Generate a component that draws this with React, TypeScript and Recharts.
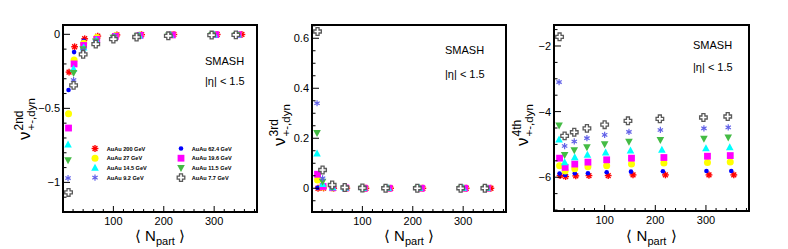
import { ScatterChart, Scatter, XAxis, YAxis } from "recharts";

// <Npart> per energy (points shift slightly with beam energy)
const npart200 = [12, 23, 43, 69, 107, 156, 220, 306, 355];
const npart62 = [11, 22, 41, 67, 104, 152, 215, 301, 350];
const npart27 = [11, 22, 41, 67, 104, 153, 217, 303, 348];
const npart19 = [11, 22, 41, 67, 104, 153, 217, 303, 348];
const npart14 = [10, 21, 41, 66, 102, 151, 213, 300, 347];
const npart11 = [10, 21, 40, 65, 100, 148, 210, 296, 344];
const npart9 = [10, 21, 40, 65, 100, 148, 210, 296, 344];
const npart7 = [11, 21, 40, 65, 100, 146, 209, 295, 343];

// v^2nd_{+-,dyn}
const v2nd200 = [-0.255, -0.084, -0.03, -0.012, -0.004, -0.002, -0.001, -0.001, -0.001];
const v2nd62 = [-0.376, -0.12, -0.043, -0.02, -0.008, -0.004, -0.002, -0.001, -0.001];
const v2nd27 = [-0.536, -0.174, -0.06, -0.022, -0.01, -0.005, -0.003, -0.002, -0.001];
const v2nd19 = [-0.633, -0.2, -0.075, -0.034, -0.014, -0.007, -0.004, -0.002, -0.002];
const v2nd14 = [-0.746, -0.234, -0.09, -0.04, -0.018, -0.009, -0.005, -0.003, -0.002];
const v2nd11 = [-0.849, -0.259, -0.1, -0.047, -0.021, -0.011, -0.006, -0.003, -0.003];
const v2nd9 = [-0.971, -0.309, -0.11, -0.05, -0.025, -0.013, -0.007, -0.004, -0.003];
const v2nd7 = [-1.068, -0.345, -0.135, -0.066, -0.032, -0.018, -0.01, -0.005, -0.004];

// v^3rd_{+-,dyn}
const v3rd200 = [0.0, 0.001, 0.0, 0.0, 0.0, 0.0, 0.0, 0.0, 0.0];
const v3rd62 = [0.002, 0.002, 0.001, 0.0, 0.0, 0.0, 0.0, 0.0, 0.0];
const v3rd27 = [0.033, 0.005, 0.001, 0.0, 0.0, 0.0, 0.0, 0.0, 0.0];
const v3rd19 = [0.056, 0.007, 0.002, 0.001, 0.0, 0.0, 0.0, 0.0, 0.0];
const v3rd14 = [0.138, 0.016, 0.003, 0.001, 0.0, 0.0, 0.0, 0.0, 0.0];
const v3rd11 = [0.222, 0.027, 0.005, 0.001, 0.0, 0.0, 0.0, 0.0, 0.0];
const v3rd9 = [0.34, 0.04, 0.008, 0.002, 0.001, 0.0, 0.0, 0.0, 0.0];
const v3rd7 = [0.627, 0.073, 0.013, 0.003, 0.001, 0.0, 0.0, 0.0, 0.0];

// v^4th_{+-,dyn}
const v4th200 = [-5.95, -5.98, -5.96, -5.95, -5.95, -5.93, -5.93, -5.93, -5.93];
const v4th62 = [-5.89, -5.93, -5.88, -5.88, -5.85, -5.83, -5.82, -5.81, -5.81];
const v4th27 = [-5.65, -5.81, -5.74, -5.68, -5.65, -5.6, -5.57, -5.55, -5.54];
const v4th19 = [-5.42, -5.7, -5.6, -5.54, -5.47, -5.42, -5.4, -5.36, -5.34];
const v4th14 = [-4.86, -5.55, -5.4, -5.32, -5.25, -5.19, -5.17, -5.12, -5.09];
const v4th11 = [-4.42, -5.32, -5.17, -5.08, -4.99, -4.91, -4.86, -4.82, -4.78];
const v4th9 = [-3.1, -5.05, -4.91, -4.81, -4.71, -4.62, -4.56, -4.51, -4.48];
const v4th7 = [-1.72, -4.74, -4.63, -4.51, -4.4, -4.28, -4.22, -4.18, -4.15];

const xTicks = [20, 40, 60, 80, 100, 120, 140, 160, 180, 200, 220, 240, 260, 280, 300, 320, 340, 360, 380];
const xMajor = [100, 200, 300];
const y2Ticks = [-1.2, -1.1, -1, -0.9, -0.8, -0.7, -0.6, -0.5, -0.4, -0.3, -0.2, -0.1, 0];
const y2Major = [-1, -0.5, 0];
const y3Ticks = [-0.05, 0, 0.05, 0.1, 0.15, 0.2, 0.25, 0.3, 0.35, 0.4, 0.45, 0.5, 0.55, 0.6, 0.65];
const y3Major = [0, 0.2, 0.4, 0.6];
const y4Ticks = [-7, -6.5, -6, -5.5, -5, -4.5, -4, -3.5, -3, -2.5, -2, -1.5];
const y4Major = [-6, -4, -2];

type Kind = "star8" | "dot" | "circle" | "square" | "triUp" | "triDown" | "star6" | "cross";

const series = [
  { name: "AuAu 200 GeV", kind: "star8" as Kind, x: npart200, v2: v2nd200, v3: v3rd200, v4: v4th200 },
  { name: "AuAu 62.4 GeV", kind: "dot" as Kind, x: npart62, v2: v2nd62, v3: v3rd62, v4: v4th62 },
  { name: "AuAu 27 GeV", kind: "circle" as Kind, x: npart27, v2: v2nd27, v3: v3rd27, v4: v4th27 },
  { name: "AuAu 19.6 GeV", kind: "square" as Kind, x: npart19, v2: v2nd19, v3: v3rd19, v4: v4th19 },
  { name: "AuAu 14.5 GeV", kind: "triUp" as Kind, x: npart14, v2: v2nd14, v3: v3rd14, v4: v4th14 },
  { name: "AuAu 11.5 GeV", kind: "triDown" as Kind, x: npart11, v2: v2nd11, v3: v3rd11, v4: v4th11 },
  { name: "AuAu 9.2 GeV", kind: "star6" as Kind, x: npart9, v2: v2nd9, v3: v3rd9, v4: v4th9 },
  { name: "AuAu 7.7 GeV", kind: "cross" as Kind, x: npart7, v2: v2nd7, v3: v3rd7, v4: v4th7 },
];

const FONT = "Liberation Sans, Arial, Helvetica, sans-serif";

function Marker({ kind, cx, cy }: { kind: Kind; cx: number; cy: number }) {
  switch (kind) {
    case "star8": {
      const r = 3.4;
      return (
        <g>
          {[0, 45, 90, 135].map((a) => {
            const dx = r * Math.cos((a * Math.PI) / 180);
            const dy = r * Math.sin((a * Math.PI) / 180);
            return <line key={a} x1={cx - dx} y1={cy - dy} x2={cx + dx} y2={cy + dy} stroke="#ff0000" strokeWidth={1.4} />;
          })}
          <circle cx={cx} cy={cy} r={1.6} fill="#ff0000" />
        </g>
      );
    }
    case "star6": {
      const r = 3.1;
      return (
        <g>
          {[90, 30, 150].map((a) => {
            const dx = r * Math.cos((a * Math.PI) / 180);
            const dy = r * Math.sin((a * Math.PI) / 180);
            return <line key={a} x1={cx - dx} y1={cy - dy} x2={cx + dx} y2={cy + dy} stroke="#6262e8" strokeWidth={1.2} />;
          })}
          <circle cx={cx} cy={cy} r={1.1} fill="#6262e8" />
        </g>
      );
    }
    case "dot":
      return <circle cx={cx} cy={cy} r={2.3} fill="#0000ff" />;
    case "circle":
      return <circle cx={cx} cy={cy} r={3.5} fill="#ffff00" />;
    case "square":
      return <rect x={cx - 3.4} y={cy - 3.4} width={6.8} height={6.8} fill="#ff00ff" />;
    case "triUp":
      return <polygon points={`${cx},${cy - 4.2} ${cx - 3.8},${cy + 2.8} ${cx + 3.8},${cy + 2.8}`} fill="#00ffff" />;
    case "triDown":
      return <polygon points={`${cx},${cy + 4.2} ${cx - 3.8},${cy - 2.8} ${cx + 3.8},${cy - 2.8}`} fill="#44bb44" />;
    case "cross": {
      const a = 1.5;
      const b = 3.8;
      const pts = [
        [-a, -b], [a, -b], [a, -a], [b, -a], [b, a], [a, a],
        [a, b], [-a, b], [-a, a], [-b, a], [-b, -a], [-a, -a],
      ]
        .map(([px, py]) => `${cx + px},${cy + py}`)
        .join(" ");
      return <polygon points={pts} fill="#ffffff" stroke="#5a5a5a" strokeWidth={1.3} />;
    }
  }
}

const isMajor = (v: number, majors: number[]) => majors.some((m) => Math.abs(m - v) < 1e-9);
const fmt = (v: number) => String(v).replace("-", "\u2212");

function YTick(props: any) {
  const { x, y, payload, majors } = props;
  const major = isMajor(payload.value, majors);
  return (
    <g>
      <line x1={x} y1={y} x2={x + (major ? 7 : 3.5)} y2={y} stroke="#000" />
      {major && (
        <text x={x - 3} y={y + 4} textAnchor="end" fontSize={11} fontFamily={FONT} fill="#000">
          {fmt(payload.value)}
        </text>
      )}
    </g>
  );
}

function XTick(props: any) {
  const { x, y, payload } = props;
  const major = isMajor(payload.value, xMajor);
  return (
    <g>
      <line x1={x} y1={y} x2={x} y2={y - (major ? 6 : 3)} stroke="#000" />
      {major && (
        <text x={x} y={y + 12.5} textAnchor="middle" fontSize={11} fontFamily={FONT} fill="#000">
          {payload.value}
        </text>
      )}
    </g>
  );
}

type PanelProps = {
  plotLeft: number;
  plotRight: number;
  top: number;
  bottom: number;
  field: "v2" | "v3" | "v4";
  domain: [number, number];
  ticks: number[];
  majors: number[];
  sup: string;
  titleX: number;
  titleY: number;
  smashX: number;
  smashY: number;
  etaY: number;
  legend?: boolean;
};

const YAXIS_W = 50;

function Panel(p: PanelProps) {
  const plotW = p.plotRight - p.plotLeft;
  const plotH = p.bottom - p.top;
  const left = p.plotLeft - YAXIS_W;
  const width = YAXIS_W + plotW + 4;
  const cx = YAXIS_W + plotW / 2;
  return (
    <div style={{ position: "absolute", left, top: 0, width, height: 249 }}>
      <ScatterChart width={width} height={249} margin={{ top: p.top, right: 4, bottom: 0, left: 0 }}>
        <XAxis
          type="number"
          dataKey="x"
          domain={[0, 385]}
          allowDataOverflow
          ticks={xTicks}
          interval={0}
          tickSize={0}
          tickMargin={0}
          axisLine={false}
          tickLine={false}
          height={249 - p.top - plotH}
          tick={(t: any) => <XTick {...t} />}
          label={{
            content: () => (
              <text x={cx} y={241} textAnchor="middle" fontSize={15} fontFamily={FONT} fill="#000">
                {"\u27E8 N"}
                <tspan fontSize={11} dy={4}>part</tspan>
                <tspan fontSize={15} dy={-4}>{" \u27E9"}</tspan>
              </text>
            ),
          }}
        />
        <YAxis
          type="number"
          dataKey="y"
          domain={p.domain}
          allowDataOverflow
          ticks={p.ticks}
          interval={0}
          tickSize={0}
          tickMargin={0}
          axisLine={false}
          tickLine={false}
          width={YAXIS_W}
          tick={(t: any) => <YTick {...t} majors={p.majors} />}
        />
        {series.map((s) => (
          <Scatter
            key={s.name}
            name={s.name}
            data={s.x.map((x, i) => ({ x, y: s[p.field][i] }))}
            isAnimationActive={false}
            shape={(sp: any) => <Marker kind={s.kind} cx={sp.cx} cy={sp.cy} />}
          />
        ))}
      </ScatterChart>
      <div
        style={{
          position: "absolute",
          left: YAXIS_W - 1,
          top: p.top - 1,
          width: plotW + 2,
          height: plotH + 2,
          border: "2px solid #000",
          boxSizing: "border-box",
          pointerEvents: "none",
        }}
      />
      <svg width={width} height={249} style={{ position: "absolute", left: 0, top: 0, pointerEvents: "none" }}>
        <g transform={`translate(${p.titleX - left},${p.titleY}) rotate(-90)`}>
          <text x={0} y={0} fontSize={17} fontFamily={FONT} fill="#000">{"\u03BD"}</text>
          <text x={9.5} y={-7} fontSize={12} fontFamily={FONT} fill="#000">{p.sup}</text>
          <text x={9.5} y={5} fontSize={11.5} fontFamily={FONT} fill="#000">+-,dyn</text>
        </g>
        <text x={p.smashX - left} y={p.smashY} fontSize={11} fontFamily={FONT} fill="#000">SMASH</text>
        <text x={p.smashX - left} y={p.etaY} fontSize={11} fontFamily={FONT} fill="#000">{"|\u03B7| < 1.5"}</text>
        {p.legend &&
          series.map((s, i) => {
            const col = i % 2;
            const row = Math.floor(i / 2);
            const my = 148.5 + row * 9.7;
            const mx = (col === 0 ? 95 : 181) - left;
            const tx = (col === 0 ? 106.7 : 191.7) - left;
            return (
              <g key={s.name}>
                <Marker kind={s.kind} cx={mx} cy={my} />
                <text x={tx} y={my + 2} fontSize={5.6} fontWeight="bold" fontFamily={FONT} fill="#000">
                  {s.name}
                </text>
              </g>
            );
          })}
      </svg>
    </div>
  );
}

export default function App() {
  return (
    <div style={{ position: "absolute", left: 0, top: 0, width: 788, height: 249, background: "#fff" }}>
      <Panel
        plotLeft={63}
        plotRight={257}
        top={25}
        bottom={212}
        field="v2"
        domain={[-1.2, 0.063]}
        ticks={y2Ticks}
        majors={y2Major}
        sup="2nd"
        titleX={30}
        titleY={140}
        smashX={205}
        smashY={65}
        etaY={85}
        legend
      />
      <Panel
        plotLeft={312}
        plotRight={506}
        top={25}
        bottom={212}
        field="v3"
        domain={[-0.095, 0.653]}
        ticks={y3Ticks}
        majors={y3Major}
        sup="3rd"
        titleX={285}
        titleY={146}
        smashX={445}
        smashY={54}
        etaY={78}
      />
      <Panel
        plotLeft={554}
        plotRight={749}
        top={25}
        bottom={211}
        field="v4"
        domain={[-7.03, -1.36]}
        ticks={y4Ticks}
        majors={y4Major}
        sup="4th"
        titleX={528}
        titleY={146}
        smashX={693}
        smashY={49}
        etaY={71}
      />
    </div>
  );
}
